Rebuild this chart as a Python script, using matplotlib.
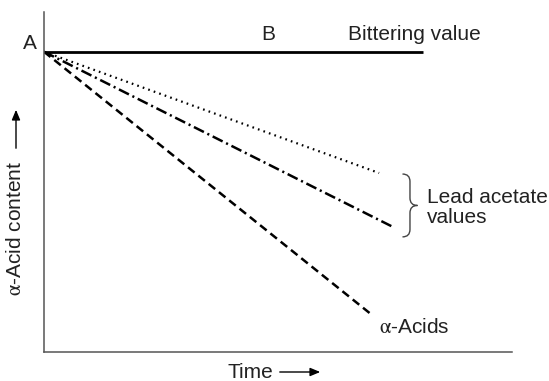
import matplotlib
matplotlib.use("Agg")
import matplotlib.pyplot as plt
from matplotlib.path import Path
from matplotlib.patches import PathPatch, FancyArrowPatch

plt.rcParams["font.family"] = ["Liberation Sans", "DejaVu Sans"]
plt.rcParams["mathtext.fontset"] = "stix"
plt.rcParams["lines.scale_dashes"] = False

# Schematic values (arbitrary units)
time_start = 0.0
content_start = 8.83                 # point A
bitter_end_time = 8.10               # bittering value stays constant
lead_dotted_end = (7.16, 5.26)       # lead acetate value, slow fall
lead_dashdot_end = (7.46, 3.67)      # lead acetate value, faster fall
alpha_end = (7.01, 1.08)             # alpha-acids

fig = plt.figure(figsize=(5.49, 3.81), dpi=100)
ax = fig.add_axes([44 / 549, 1 - 351.7 / 381, (512 - 44) / 549, (351.7 - 12) / 381])
ax.set_xlim(0, 10)
ax.set_ylim(0, 10)
for s in ("top", "right"):
    ax.spines[s].set_visible(False)
for s in ("left", "bottom"):
    ax.spines[s].set_color("#555555")
    ax.spines[s].set_linewidth(1.1)
ax.set_xticks([])
ax.set_yticks([])

# Bittering value
ax.plot([time_start, bitter_end_time], [content_start, content_start],
        color="black", lw=2.0, solid_capstyle="butt")
# Lead acetate values
ax.plot([time_start, lead_dotted_end[0]], [content_start, lead_dotted_end[1]],
        color="black", lw=1.6, linestyle=(0, (1.2, 3.0)))
ax.plot([time_start, lead_dashdot_end[0]], [content_start, lead_dashdot_end[1]],
        color="black", lw=1.8, linestyle=(0, (8.0, 2.8, 1.5, 2.8)))
# Alpha-acids
ax.plot([time_start, alpha_end[0]], [content_start, alpha_end[1]],
        color="black", lw=1.8, linestyle=(0, (6.0, 3.5)))

fs = 15
tc = "#222222"
alpha = r"$\mathrm{\alpha}$"
ax.annotate("A", (time_start, content_start), xytext=(-5, 6), textcoords="offset points",
            ha="right", va="center", fontsize=fs, color=tc, annotation_clip=False)
ax.text(4.8, content_start + 0.5, "B", ha="center", va="center", fontsize=fs, color=tc)
ax.text(6.5, content_start + 0.5, "Bittering value", ha="left", va="center",
        fontsize=fs, color=tc)

ax.annotate(alpha + "-Acids", alpha_end, xytext=(5, -9), textcoords="offset points",
            ha="left", va="center", fontsize=fs, color=tc)

# Brace grouping the two lead acetate lines
bx, btop, bbot = 7.82, 5.23, 3.38
bmid = (btop + bbot) / 2
w, h = 0.16, 0.22
verts = [
    (bx - w, btop), (bx, btop), (bx, btop - h),
    (bx, bmid + h),
    (bx, bmid), (bx + w, bmid), (bx + w, bmid),
    (bx, bmid), (bx, bmid - h),
    (bx, bbot + h),
    (bx, bbot), (bx - w, bbot),
]
codes = [Path.MOVETO, Path.CURVE3, Path.CURVE3,
         Path.LINETO,
         Path.CURVE3, Path.CURVE3, Path.MOVETO,
         Path.CURVE3, Path.CURVE3,
         Path.LINETO,
         Path.CURVE3, Path.CURVE3]
ax.add_patch(PathPatch(Path(verts, codes), fill=False, edgecolor="#444444", lw=1.0,
                       clip_on=False))
ax.text(8.18, 4.55, "Lead acetate", ha="left", va="center", fontsize=fs, color=tc)
ax.text(8.18, 3.94, "values", ha="left", va="center", fontsize=fs, color=tc)

# Axis titles with arrows
fig.text(227 / 549, 1 - 372 / 381, "Time", ha="left", va="center", fontsize=fs, color=tc)
fig.add_artist(FancyArrowPatch(
    (277 / 549, 1 - 372 / 381), (323 / 549, 1 - 372 / 381),
    transform=fig.transFigure, arrowstyle="-|>,head_length=6,head_width=2.5",
    color="black", lw=1.0, mutation_scale=1))
fig.text(16 / 549, 1 - 228 / 381, alpha + "-Acid content", rotation=90,
         ha="center", va="center", fontsize=fs, color=tc)
fig.add_artist(FancyArrowPatch(
    (16 / 549, 1 - 151 / 381), (16 / 549, 1 - 107 / 381),
    transform=fig.transFigure, arrowstyle="-|>,head_length=6,head_width=2.5",
    color="black", lw=1.0, mutation_scale=1))

fig.savefig("out.png", dpi=100, facecolor="white")
